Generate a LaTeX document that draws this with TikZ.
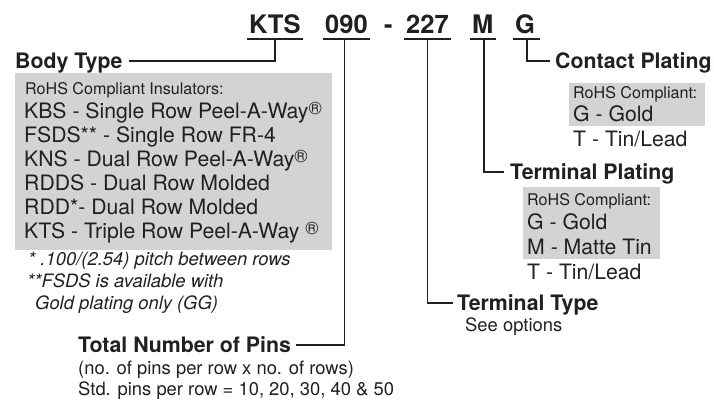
\documentclass[tikz,border=0pt]{standalone}
\usepackage{fontspec}
\setmainfont{TeX Gyre Heros}
\usetikzlibrary{calc}
\definecolor{ink}{HTML}{231F20}
\definecolor{boxgray}{HTML}{D1D3D4}
\newcommand{\regmark}{\raisebox{3.5pt}{\fontsize{18}{18}\selectfont\textregistered}}
\tikzset{
  code/.style={anchor=base west, inner xsep=2pt, inner ysep=0pt, text=ink, font=\fontsize{25.5}{28}\selectfont\bfseries},
  lab/.style={anchor=base west, inner sep=0pt, text=ink, font=\fontsize{21.3}{24}\selectfont\bfseries},
  big/.style={anchor=base west, inner sep=0pt, text=ink, font=\fontsize{21.2}{24}\selectfont},
  small/.style={anchor=base west, inner sep=0pt, text=ink, font=\fontsize{16.1}{18}\selectfont},
  note/.style={anchor=base west, inner sep=0pt, text=ink, font=\fontsize{18.4}{21}\selectfont},
  inote/.style={anchor=base west, inner sep=0pt, text=ink, font=\fontsize{18.4}{21}\selectfont\itshape},
  conn/.style={draw=ink, line width=1.5pt},
  greybox/.style={fill=boxgray}
}
\begin{document}
\begin{tikzpicture}[x=1pt,y=-1pt]
\useasboundingbox (0,0) rectangle (714,402);
% grey boxes
\fill[greybox] (15,73) rectangle (332,250);
\fill[greybox] (569,83) rectangle (705,126);
\fill[greybox] (523,187) rectangle (660,259);

% part number code
\node[code] (kts) at (247,33) {KTS};
\node[code] (n090) at (323,33) {090};
\node[code] (dash) at (382,33) {-};
\node[code] (n227) at (404,33) {227};
\node[code] (m) at (470,33) {M};
\node[code] (g) at (513,33) {G};
\foreach \n in {kts,n090,n227,m,g}
  \draw[conn] ([yshift=-6pt]\n.base west) -- ([yshift=-6pt]\n.base east);
\draw[conn] ([xshift=3pt,yshift=-6pt]g.base east) -- ([yshift=-6pt]g.base east);

% Body type
\node[lab] (bodytype) at (15,68) {Body Type};
\node[small] (b0) at (25,94) {RoHS Compliant Insulators:};
\node[big] (b1) at (24,118) {KBS - Single Row Peel-A-Way\regmark};
\node[big] (b2) at (24,142) {FSDS** - Single Row FR-4};
\node[big] (b3) at (24,166) {KNS - Dual Row Peel-A-Way\regmark};
\node[big] (b4) at (24,190) {RDDS - Dual Row Molded};
\node[big] (b5) at (24,214) {RDD*- Dual Row Molded};
\node[big] (b6) at (24,238) {KTS - Triple Row Peel-A-Way \regmark};
\node[inote] (f1) at (28,265) {* .100/(2.54) pitch between rows};
\node[inote] (f2) at (27,287) {**FSDS is available with};
\node[inote] (f3) at (35,309) {Gold plating only (GG)};

% Total number of pins
\node[lab] (total) at (78,352) {Total Number of Pins};
\node[note] (t1) at (78,374) {(no. of pins per row x no. of rows)};
\node[note] (t2) at (78,395) {Std. pins per row = 10, 20, 30, 40 \& 50};

% Terminal type
\node[lab] (ttype) at (457,310) {Terminal Type};
\node[note] (tt1) at (465,331) {See options};

% Terminal plating
\node[lab] (tplat) at (510,179) {Terminal Plating};
\node[small] (p0) at (527,205) {RoHS Compliant:};
\node[big] (p1) at (527,229) {G - Gold};
\node[big] (p2) at (527,254) {M - Matte Tin};
\node[big] (p3) at (527,279) {T - Tin/Lead};

% Contact plating
\node[lab] (cplat) at (555,68) {Contact Plating};
\node[small] (c0) at (573,98) {RoHS Compliant:};
\node[big] (c1) at (573,121) {G - Gold};
\node[big] (c2) at (573,146) {T - Tin/Lead};

% connectors
\draw[conn] ([yshift=-6pt]kts.base) |- ([xshift=6pt,yshift=7pt]bodytype.base east);
\draw[conn] ([xshift=-2pt,yshift=-6pt]n090.base) |- ([xshift=5pt,yshift=7pt]total.base east);
\draw[conn] ([yshift=-6pt]n227.base) |- ([xshift=-4pt,yshift=7pt]ttype.base west);
\draw[conn] ([xshift=1pt,yshift=-6pt]m.base) |- ([xshift=-6pt,yshift=7pt]tplat.base west);
\draw[conn] ([xshift=2pt,yshift=-6pt]g.base) |- ([xshift=-5pt,yshift=7pt]cplat.base west);
\end{tikzpicture}
\end{document}
